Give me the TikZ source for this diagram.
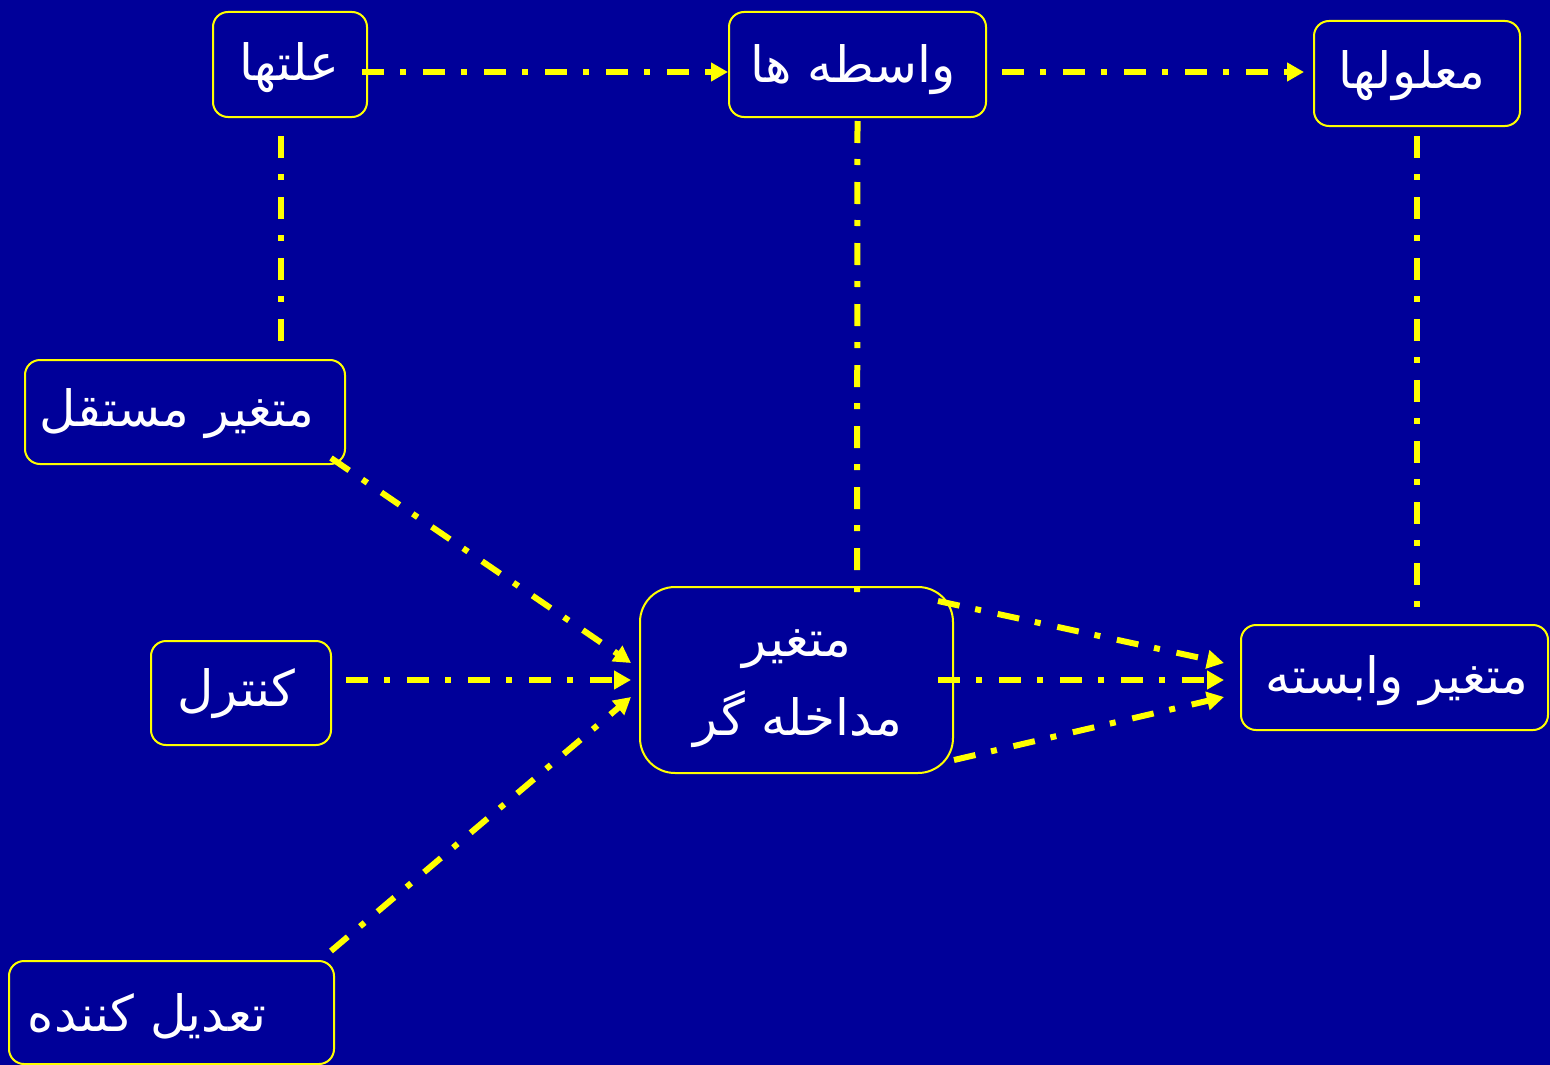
\documentclass[tikz,border=0pt]{standalone}
\usepackage{fontspec}
\newfontfamily\arabicfont[Script=Arabic]{DejaVu Sans}
\TeXXeTstate=1
\usetikzlibrary{arrows.meta,calc}
\definecolor{bg}{RGB}{0,0,153}
\definecolor{yl}{RGB}{255,255,0}
\tikzset{
  box/.style={draw=yl, line width=2pt, rounded corners=15pt, inner sep=0pt},
  lbl/.style={text=white, inner sep=0pt, font=\arabicfont\fontsize{50}{60}\selectfont, align=center},
  conn/.style={draw=yl, line width=6pt, dash pattern=on 22pt off 16pt on 6pt off 17pt},
  arr/.style={conn, -{Triangle[length=17pt,width=18pt]}}
}
\begin{document}
\begin{tikzpicture}[x=1pt,y=-1pt]
\fill[bg] (0,0) rectangle (1550,1065);
\useasboundingbox (0,0) rectangle (1550,1065);
% boxes
\node[box, minimum width=154pt, minimum height=105pt] (A) at (290,64.5) {};
\node[box, minimum width=257pt, minimum height=105pt] (B) at (857.5,64.5) {};
\node[box, minimum width=206pt, minimum height=105pt] (C) at (1417,73.5) {};
\node[box, minimum width=320pt, minimum height=104pt] (D) at (185,412) {};
\node[box, minimum width=180pt, minimum height=104pt] (E) at (241,693) {};
\node[box, minimum width=325pt, minimum height=103pt] (F) at (171.5,1012.5) {};
\node[box, rounded corners=35pt, minimum width=313pt, minimum height=186pt] (M) at (796.5,680) {};
\node[box, minimum width=307pt, minimum height=105pt] (G) at (1394.5,677.5) {};
% labels
\node[lbl] (tA) at (289,68) {\beginR علتها\endR};
\node[lbl] (tB) at (853,70) {\beginR واسطه ها\endR};
\node[lbl] (tC) at (1412,76) {\beginR معلولها\endR};
\node[lbl] (tD) at (177,414) {\beginR متغیر مستقل\endR};
\node[lbl] (tE) at (236,694) {\beginR کنترل\endR};
\node[lbl] (tF) at (147,1016) {\beginR تعدیل کننده\endR};
\node[lbl] (tM1) at (797,649) {\beginR متغیر\endR};
\node[lbl] (tM2) at (798,719) {\beginR مداخله گر\endR};
\node[lbl] (tG) at (1397,681) {\beginR متغیر وابسته\endR};
% connectors
\draw[arr] ($(A.east)+(-6,7.5)$) -- ($(B.west)+(0,7.5)$);
\draw[arr] ($(B.east)+(15,7.5)$) -- ($(C.west)+(-9,-1.5)$);
\draw[conn] ($(A.south)+(-9,18)$) -- ($(D.north)+(96,-15)$);
\draw[conn] ($(B.south)+(0,3)$) -- ($(M.north)+(60.5,13)$);
\draw[conn] ($(C.south)+(0,9)$) -- ($(G.north)+(22.5,-10)$);
\draw[arr] ($(D.south east)+(-15,-7)$) -- ($(M.west)+(-8,-17)$);
\draw[arr] ($(E.east)+(14,-13)$) -- ($(M.west)+(-8,0)$);
\draw[arr] ($(F.north east)+(-4,-9)$) -- ($(M.west)+(-8,17)$);
\draw[arr] ($(M.north east)+(-16,15)$) -- ($(G.west)+(-16,-14.5)$);
\draw[arr] ($(M.east)+(-16,0)$) -- ($(G.west)+(-16,2.5)$);
\draw[arr] ($(M.south east)+(0,-14)$) -- ($(G.west)+(-16,19.5)$);
\end{tikzpicture}
\end{document}
